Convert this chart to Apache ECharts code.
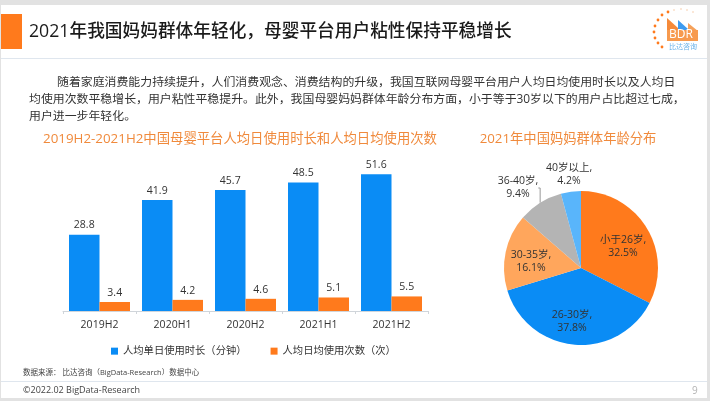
<!DOCTYPE html>
<html>
<head>
<meta charset="utf-8">
<style>
  html, body { margin: 0; padding: 0; background: #fff; }
  #chart { width: 710px; height: 401px; }
</style>
<script src="https://cdn.jsdelivr.net/npm/echarts@6/dist/echarts.min.js"></script>
</head>
<body>
<div id="chart"></div>
<script>
// Données
const periods = ['2019H2', '2020H1', '2020H2', '2021H1', '2021H2'];
const durationName = '人均单日使用时长（分钟）';
const countName = '人均日均使用次数（次）';
const durationValues = [28.8, 41.9, 45.7, 48.5, 51.6];
const countValues = [3.4, 4.2, 4.6, 5.1, 5.5];
const ageGroups = ['小于26岁', '26-30岁', '30-35岁', '36-40岁', '40岁以上'];
const ageShares = [32.5, 37.8, 16.1, 9.4, 4.2];
const ageColors = ['#ff7a1c', '#0a8cf5', '#ffa65c', '#b4b4b4', '#59b5fb'];

const titleText = '2021年我国妈妈群体年轻化，母婴平台用户粘性保持平稳增长';
const bodyLines = [
    '随着家庭消费能力持续提升，人们消费观念、消费结构的升级，我国互联网母婴平台用户人均日均使用时长以及人均日',
    '均使用次数平稳增长，用户粘性平稳提升。此外，我国母婴妈妈群体年龄分布方面，小于等于30岁以下的用户占比超过七成，',
    '用户进一步年轻化。'
];
const barTitle = '2019H2-2021H2中国母婴平台人均日使用时长和人均日均使用次数';
const pieTitle = '2021年中国妈妈群体年龄分布';
const sourceText = '数据来源： 比达咨询（BigData-Research）数据中心';
const copyrightText = '©2022.02 BigData-Research';
const pageNumber = '9';

const FONT = '"Open Sans","Noto Sans CJK SC",sans-serif';
const BLUE = '#0a8cf5';
const ORANGE = '#ff7a1c';

// Position des étiquettes du camembert
const pieLabelPos = [[623, 247], [572, 322], [531, 262], [518, 188], [569, 175]];

function text(x, y, str, size, color, extra) {
    return {
        type: 'text', x: x, y: y,
        style: Object.assign({
            text: str, fontSize: size, fill: color, fontFamily: FONT,
            textVerticalAlign: 'middle'
        }, extra || {})
    };
}
function rect(x, y, w, h, color) {
    return { type: 'rect', shape: { x: x, y: y, width: w, height: h }, style: { fill: color } };
}

// Cadre de la diapositive
const frame = [
    rect(0, 0, 710, 5, '#e2e2e2'),
    rect(0, 398, 710, 3, '#e2e2e2'),
    rect(0, 0, 1, 401, '#e2e2e2'),
    rect(707, 0, 3, 401, '#e2e2e2'),
    rect(1, 14, 21, 35, ORANGE),
    rect(1, 58, 706, 1, '#dfe6ee'),
    rect(1, 381, 706, 1, '#dfe6ee')
];

// Logo BDR
const logoDots = [];
[[653, 32], [654, 26], [657, 20], [661, 15], [667, 12], [673, 10], [680, 9], [686, 10], [692, 12],
 [654, 38], [657, 43], [661, 47]].forEach(function (p, i) {
    logoDots.push({
        type: 'circle',
        shape: { cx: p[0] + 1, cy: p[1], r: i < 5 || i > 8 ? 1.4 : 0.8 },
        style: { fill: i < 5 || i > 8 ? ORANGE : '#f6c9a4' }
    });
});
const logo = logoDots.concat([
    { type: 'polygon', shape: { points: [[667, 31], [667, 18], [678, 28], [678, 31]] }, style: { fill: '#f58a3a' } },
    { type: 'polygon', shape: { points: [[678, 31], [678, 20], [688, 29], [688, 31]] }, style: { fill: '#3d9bf0' } },
    { type: 'polygon', shape: { points: [[688, 31], [688, 23], [698, 31]] }, style: { fill: '#f5a15a' } },
    rect(667, 30, 31, 11, '#f79a4e'),
    text(669, 35, 'BDR', 12, '#ffffff'),
    text(669, 47, '比达咨询', 7, '#69b2ea')
]);

const texts = [
    text(29, 32, titleText, 17.7, '#1a1a1a', { fontWeight: 500 }),
    text(57, 83, bodyLines[0], 11.9, '#333'),
    text(29, 100, bodyLines[1], 11.9, '#333'),
    text(29, 117, bodyLines[2], 11.9, '#333'),
    text(240, 139, barTitle, 13.35, '#f08a3c', { textAlign: 'center' }),
    text(568, 139, pieTitle, 13.3, '#f08a3c', { textAlign: 'center' }),
    text(23, 372.5, sourceText, 7.5, '#444'),
    text(23, 390, copyrightText, 9, '#444'),
    text(692, 391, pageNumber, 10, '#b5b5b5')
];

const chartDom = document.getElementById('chart');
const myChart = echarts.init(chartDom);

const option = {
    animation: false,
    textStyle: { fontFamily: FONT },
    grid: { left: 63, right: 282, top: 152, height: 159 },
    legend: {
        data: [durationName, countName],
        left: 106, top: 341,
        itemWidth: 7, itemHeight: 7, itemGap: 24, icon: 'rect',
        textStyle: { fontSize: 10.3, color: '#333', fontFamily: FONT }
    },
    xAxis: {
        type: 'category',
        data: periods,
        axisLine: { lineStyle: { color: '#d0d5da' } },
        axisTick: { show: true, length: 3, lineStyle: { color: '#d0d5da' } },
        axisLabel: { fontSize: 10.5, color: '#333', margin: 9, fontFamily: FONT }
    },
    yAxis: { type: 'value', min: 0, max: 60, show: false },
    series: [
        {
            name: durationName, type: 'bar', data: durationValues,
            barWidth: 30.5, barGap: 0,
            itemStyle: { color: BLUE },
            label: { show: true, position: 'top', fontSize: 10.5, color: '#333', distance: 4 }
        },
        {
            name: countName, type: 'bar', data: countValues,
            barWidth: 30.5,
            itemStyle: { color: ORANGE },
            label: { show: true, position: 'top', fontSize: 10.5, color: '#333', distance: 4 }
        },
        {
            type: 'pie',
            center: [581, 268], radius: [0, 77],
            startAngle: 90, clockwise: true,
            label: { color: '#333', fontSize: 10.5, lineHeight: 13, align: 'center', formatter: '{b},\n{c}%' },
            labelLayout: function (params) {
                const p = pieLabelPos[params.dataIndex];
                return { x: p[0], y: p[1], align: 'center', verticalAlign: 'middle' };
            },
            data: ageGroups.map(function (name, i) {
                const outside = i >= 3;
                return {
                    name: name, value: ageShares[i],
                    itemStyle: { color: ageColors[i] },
                    label: { position: outside ? 'outside' : 'inside' },
                    labelLine: {
                        show: i === 3, length: 4, length2: 4,
                        lineStyle: { color: '#999', width: 1 }
                    }
                };
            })
        }
    ],
    graphic: { elements: frame.concat(logo, texts) }
};

// Utiliser la configuration pour rendre le graphique
myChart.setOption(option);
</script>
</body>
</html>
